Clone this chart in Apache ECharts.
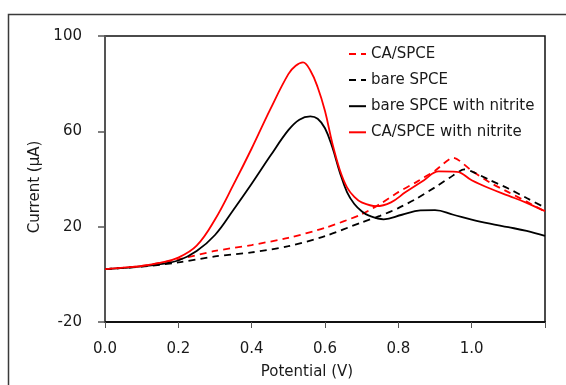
<!DOCTYPE html>
<html>
<head>
<meta charset="utf-8">
<script src="https://cdn.jsdelivr.net/npm/echarts@6/dist/echarts.min.js"></script>
<style>
  html, body { margin: 0; padding: 0; background: #fff; }
  #chart { width: 566px; height: 385px; }
</style>
</head>
<body>
<div id="chart"></div>
<script>
// Linear sweep voltammograms: current (µA) vs potential (V)
const seriesNames = ['CA/SPCE', 'bare SPCE', 'bare SPCE with nitrite', 'CA/SPCE with nitrite'];

const potCA = [0, 0.1, 0.2, 0.3, 0.4, 0.5, 0.6, 0.7, 0.75, 0.8, 0.85, 0.9, 0.95, 1.0, 1.05, 1.1, 1.15, 1.2];
const curCA = [2.2, 3.5, 6.3, 9.8, 12.3, 15.3, 19.5, 25.2, 29.5, 34.5, 38.8, 43.5, 48.9, 43.5, 38.5, 34.5, 30.5, 26.3];

const potBare = [0, 0.1, 0.2, 0.3, 0.4, 0.5, 0.6, 0.7, 0.75, 0.8, 0.85, 0.9, 0.94, 0.98, 1.0, 1.05, 1.1, 1.15, 1.2];
const curBare = [2.2, 3.2, 5.0, 7.5, 9.2, 11.8, 16.0, 21.8, 24.5, 27.8, 31.8, 36.5, 40.5, 44.0, 43.2, 39.5, 36.0, 32.0, 28.0];

const potBareNitrite = [0, 0.05, 0.1, 0.15, 0.2, 0.25, 0.3, 0.35, 0.4, 0.45, 0.5, 0.53, 0.56, 0.58, 0.6, 0.62, 0.64, 0.66, 0.68, 0.7, 0.72, 0.76, 0.81, 0.86, 0.9, 0.95, 1.0, 1.05, 1.1, 1.15, 1.2];
const curBareNitrite = [2.2, 2.7, 3.3, 4.3, 5.8, 9.8, 16.5, 27.0, 38.0, 49.5, 60.5, 64.9, 66.3, 65.3, 61.3, 53.3, 43.0, 34.5, 29.5, 26.5, 24.6, 23.1, 25.0, 26.8, 26.9, 25.0, 23.0, 21.3, 19.8, 18.2, 16.1];

const potCANitrite = [0, 0.05, 0.1, 0.15, 0.2, 0.25, 0.3, 0.35, 0.4, 0.45, 0.5, 0.52, 0.54, 0.56, 0.58, 0.6, 0.62, 0.64, 0.66, 0.68, 0.7, 0.74, 0.78, 0.82, 0.87, 0.91, 0.96, 1.0, 1.05, 1.1, 1.15, 1.2];
const curCANitrite = [2.2, 2.8, 3.5, 4.8, 7.0, 12.0, 23.0, 37.5, 52.8, 69.0, 84.0, 87.5, 88.9, 85.5, 78.5, 68.5, 55.0, 44.0, 36.5, 32.5, 30.2, 28.6, 30.2, 34.5, 39.5, 43.2, 43.0, 39.5, 36.0, 33.0, 30.0, 26.5];

const xTicks = [0, 0.2, 0.4, 0.6, 0.8, 1.0];
const yTicks = [-20, 20, 60, 100];

const pairs = (xs, ys) => xs.map((x, i) => [x, ys[i]]);
const FONT = 'DejaVu Sans';

// legend glyphs: short broken stroke for the bare sweeps, solid stroke for the nitrite sweeps
const ICON_DASH = 'path://M0,0h7v2h-7z M12,0h5v2h-5z';
const ICON_SOLID = 'path://M0,0h17v2h-17z';

const chart = echarts.init(document.getElementById('chart'), null, { renderer: 'canvas' });

chart.setOption({
  animation: false,
  backgroundColor: '#ffffff',
  textStyle: { fontFamily: FONT },
  graphic: [{
    type: 'rect',
    shape: { x: 8.5, y: 14.5, width: 700, height: 500 },
    style: { fill: 'none', stroke: '#3a3a3a', lineWidth: 1.5 },
    silent: true
  }],
  grid: { left: 105, right: 21, top: 36, bottom: 62, show: true, borderColor: '#111', borderWidth: 1.5, backgroundColor: 'transparent' },
  legend: {
    orient: 'vertical',
    left: 349,
    top: 46.5,
    padding: 0,
    itemWidth: 17,
    itemHeight: 2,
    itemGap: 11.1,
    data: [
      { name: seriesNames[0], icon: ICON_DASH },
      { name: seriesNames[1], icon: ICON_DASH },
      { name: seriesNames[2], icon: ICON_SOLID },
      { name: seriesNames[3], icon: ICON_SOLID }
    ],
    textStyle: { fontFamily: FONT, fontSize: 15, color: '#1a1a1a', lineHeight: 15 }
  },
  xAxis: {
    type: 'value',
    min: 0, max: 1.2, interval: 0.2,
    name: 'Potential (V)',
    nameLocation: 'middle',
    nameGap: 43,
    nameTextStyle: { fontFamily: FONT, fontSize: 15, color: '#1a1a1a', padding: [0, 36, 0, 0] },
    axisLine: { show: true, onZero: false, lineStyle: { color: '#111', width: 2 } },
    axisTick: { show: true, inside: false, length: 6, lineStyle: { color: '#555', width: 1 } },
    axisLabel: {
      margin: 20, fontSize: 15, color: '#1a1a1a', fontFamily: FONT,
      formatter: v => xTicks.some(t => Math.abs(t - v) < 1e-6) ? v.toFixed(1) : ''
    },
    splitLine: { show: false }
  },
  yAxis: {
    type: 'value',
    min: -20, max: 100, interval: 40,
    name: 'Current (µA)',
    nameLocation: 'middle',
    nameGap: 60,
    nameTextStyle: { fontFamily: FONT, fontSize: 15, color: '#1a1a1a', padding: [0, 16, 0, 0] },
    axisLine: { show: true, onZero: false, lineStyle: { color: '#555', width: 2 } },
    axisTick: { show: true, inside: false, length: 7, lineStyle: { color: '#555', width: 1.5 } },
    axisLabel: {
      margin: 23, fontSize: 15, color: '#1a1a1a', fontFamily: FONT,
      formatter: v => yTicks.includes(v) ? String(v) : ''
    },
    splitLine: { show: false }
  },
  series: [
    {
      name: seriesNames[0], type: 'line', data: pairs(potCA, curCA),
      showSymbol: false, symbol: 'none', smooth: 0.25, color: '#ff0000',
      lineStyle: { color: '#ff0000', width: 1.8, type: [7, 5] }
    },
    {
      name: seriesNames[1], type: 'line', data: pairs(potBare, curBare),
      showSymbol: false, symbol: 'none', smooth: 0.25, color: '#000000',
      lineStyle: { color: '#000000', width: 1.8, type: [7, 5] }
    },
    {
      name: seriesNames[2], type: 'line', data: pairs(potBareNitrite, curBareNitrite),
      showSymbol: false, symbol: 'none', smooth: 0.4, color: '#000000',
      lineStyle: { color: '#000000', width: 1.8 }
    },
    {
      name: seriesNames[3], type: 'line', data: pairs(potCANitrite, curCANitrite),
      showSymbol: false, symbol: 'none', smooth: 0.4, color: '#ff0000',
      lineStyle: { color: '#ff0000', width: 1.8 }
    }
  ]
});
</script>
</body>
</html>
